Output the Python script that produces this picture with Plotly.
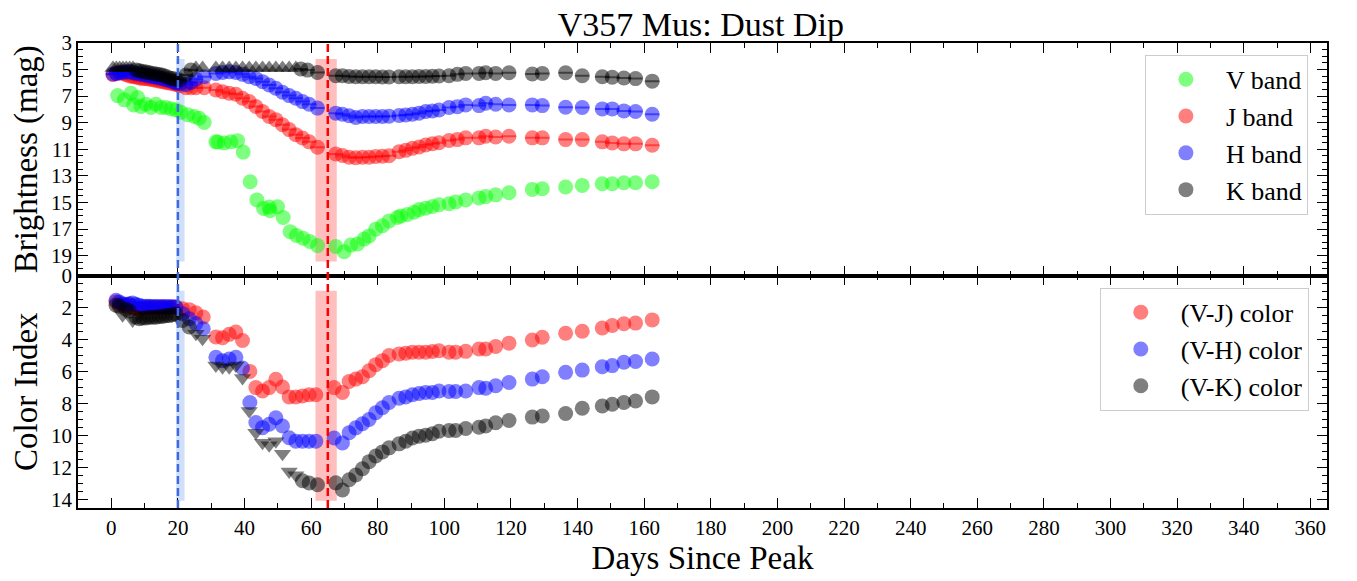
import plotly.graph_objects as go

FONT = "Liberation Serif, Times New Roman, serif"

# ---------------- top panel: magnitudes ----------------
v_days = [1.9, 3.9, 5.9, 6.7, 7.9, 8.9, 10.4, 11.9, 13.4, 14.9, 16.4, 17.9, 19.4, 20.9, 22.9, 24.9, 26.4, 27.9,
          31.4, 32.0, 33.9, 35.9, 37.9, 39.6, 41.7, 43.7, 45.7, 47.4, 47.7, 49.9, 51.6, 53.7, 55.6, 57.6, 59.6, 61.9,
          67.4, 69.9, 71.9, 73.9, 75.9, 77.4, 79.4, 81.4, 83.4, 85.9, 86.9, 88.9, 90.9, 92.4, 94.4, 96.4, 98.4,
          101.4, 103.4, 106.4, 110.4, 112.4, 115.4, 119.4, 126.4, 129.4, 136.4, 141.4, 147.4, 150.4, 153.9, 157.4, 162.4]
v_mag = [6.96, 7.28, 6.78, 7.66, 7.11, 7.78, 7.61, 7.85, 7.61, 7.85, 7.85, 7.95, 8.03, 8.21, 8.40, 8.53, 8.66, 8.98,
         10.44, 10.46, 10.52, 10.44, 10.35, 11.21, 13.44, 14.81, 15.45, 15.35, 15.63, 15.33, 16.13, 17.20, 17.49, 17.70, 17.94, 18.25,
         18.31, 18.71, 18.21, 18.13, 17.76, 17.52, 17.01, 16.76, 16.39, 16.14, 16.03, 15.90, 15.74, 15.54, 15.44, 15.31, 15.18,
         15.10, 14.96, 14.81, 14.66, 14.56, 14.43, 14.27, 14.02, 13.97, 13.84, 13.72, 13.59, 13.59, 13.52, 13.52, 13.44]

jh_days = [0.5, 1.5, 2.5, 3.5, 4.5, 5.5, 6.5, 7.5, 8.5, 9.5, 10.5, 11.5, 12.5, 13.5, 14.5, 15.5, 16.5, 17.5, 18.5, 19.5, 20.5,
           22.4, 23.9, 25.4, 27.9,
           31.4, 33.4, 35.4, 37.4, 39.4, 41.4, 43.4, 45.4, 47.4, 49.4, 51.4, 53.4, 55.4, 57.4, 59.4, 61.9,
           67.4, 69.4, 71.4, 73.4, 75.4, 77.4, 79.4, 81.4, 83.4, 86.4, 88.4, 90.4, 92.4, 94.4, 96.4, 98.4,
           101.4, 103.9, 106.4, 110.4, 112.4, 115.4, 119.4, 126.4, 129.4, 136.4, 141.4, 147.4, 150.4, 153.9, 157.4, 162.4]
j_mag = [5.38, 5.29, 5.24, 5.29, 5.38, 5.48, 5.53, 5.58, 5.63, 5.68, 5.68, 5.73, 5.77, 5.82, 5.87, 5.92, 5.97, 6.02, 6.07, 6.12, 6.21,
         6.36, 6.36, 6.36, 6.36,
         6.54, 6.66, 6.78, 6.86, 7.16, 7.41, 7.78, 8.16, 8.53, 8.77, 9.15, 9.52, 9.90, 10.15, 10.44, 10.84,
         11.35, 11.47, 11.60, 11.64, 11.60, 11.60, 11.54, 11.52, 11.49, 11.18, 11.08, 10.93, 10.83, 10.68, 10.58, 10.51,
         10.34, 10.27, 10.14, 10.14, 10.02, 10.07, 10.02, 10.14, 10.14, 10.27, 10.27, 10.44, 10.52, 10.59, 10.59, 10.70]
h_mag = [5.33, 5.29, 5.24, 5.19, 5.19, 5.14, 5.24, 5.29, 5.33, 5.38, 5.43, 5.48, 5.53, 5.58, 5.63, 5.68, 5.77, 5.82, 5.92, 6.02, 6.07,
         6.12, 5.97, 5.72, 5.54,
         5.29, 5.22, 5.17, 5.22, 5.36, 5.54, 5.67, 5.91, 6.16, 6.41, 6.71, 6.96, 7.16, 7.41, 7.61, 7.90,
         8.28, 8.36, 8.48, 8.61, 8.53, 8.53, 8.53, 8.53, 8.51, 8.46, 8.41, 8.36, 8.28, 8.16, 8.11, 8.04,
         7.86, 7.79, 7.66, 7.71, 7.53, 7.61, 7.66, 7.66, 7.71, 7.84, 7.86, 7.96, 7.96, 8.11, 8.16, 8.36]

k_days = [7.5, 8.5, 9.5, 10.5, 11.5, 12.5, 13.5, 14.5, 15.5, 16.5, 17.5, 18.5, 19.5, 20.5, 22.4, 23.9,
          56.9, 58.9, 61.9,
          67.4, 69.4, 71.4, 73.4, 75.4, 77.4, 79.4, 81.4, 83.4, 86.4, 88.4, 90.4, 92.4, 94.4, 96.4, 98.4,
          101.4, 103.9, 106.4, 110.4, 112.4, 115.4, 119.4, 126.4, 129.4, 136.4, 141.4, 147.4, 150.4, 153.9, 157.4, 162.4]
k_mag = [5.04, 5.09, 5.14, 5.19, 5.24, 5.29, 5.33, 5.38, 5.43, 5.53, 5.63, 5.68, 5.77, 5.79, 5.41, 5.04,
         4.96, 5.04, 5.22,
         5.47, 5.47, 5.52, 5.54, 5.54, 5.54, 5.54, 5.56, 5.56, 5.54, 5.54, 5.54, 5.52, 5.52, 5.50, 5.48,
         5.47, 5.36, 5.29, 5.29, 5.24, 5.29, 5.24, 5.33, 5.29, 5.24, 5.47, 5.54, 5.58, 5.64, 5.68, 5.87]
k_lim_days = [0.5, 1.5, 2.5, 3.5, 4.5, 5.5, 6.5, 25.4, 27.4, 31.4, 33.4, 35.4, 37.4, 39.4, 41.4, 43.4,
              45.4, 47.4, 49.4, 51.4, 53.4, 55.4]
k_lim_mag = [4.88, 4.88, 4.88, 4.88, 4.88, 4.88, 4.88, 4.88, 4.88, 4.88, 4.88, 4.88, 4.88, 4.88, 4.88, 4.88,
             4.88, 4.88, 4.88, 4.88, 4.88, 4.88]

# ---------------- bottom panel: colour indices ----------------
c_days = [1.4, 2.4, 3.4, 4.4, 5.4, 6.4, 7.4, 8.4, 9.4, 10.4, 11.4, 12.4, 13.4, 14.4, 15.4, 16.4, 17.4, 18.4, 19.4,
          21.4, 23.4, 25.4, 27.6,
          31.4, 33.4, 35.4, 37.4, 39.4, 41.6, 43.4, 45.4, 47.4, 49.4, 51.4, 53.4, 55.4, 57.4, 59.4, 61.4,
          66.9, 69.4, 71.4, 73.4, 75.4, 77.4, 79.4, 81.4, 83.4, 86.4, 88.4, 90.4, 92.4, 94.4, 96.4, 98.4,
          101.4, 103.4, 106.4, 110.4, 112.4, 115.4, 119.4, 126.4, 129.4, 136.4, 141.4, 147.4, 150.4, 153.9, 157.4, 162.4]
vj_color = [1.64, 1.81, 1.86, 1.91, 1.81, 2.01, 2.06, 2.11, 2.06, 2.01, 1.96, 2.01, 1.96, 2.01, 1.96, 2.01, 1.99, 1.96, 1.96,
            2.07, 2.13, 2.33, 2.59,
            3.84, 3.88, 3.67, 3.52, 4.05, 5.98, 6.99, 7.20, 6.99, 6.47, 6.95, 7.57, 7.57, 7.51, 7.44, 7.44,
            6.99, 7.29, 6.61, 6.46, 6.31, 5.94, 5.56, 5.31, 4.99, 4.89, 4.85, 4.78, 4.78, 4.78, 4.74, 4.69,
            4.78, 4.78, 4.73, 4.58, 4.58, 4.43, 4.22, 4.02, 3.85, 3.60, 3.48, 3.27, 3.12, 3.01, 2.97, 2.77]
vh_color = [1.54, 1.66, 1.76, 1.81, 1.76, 1.71, 1.81, 1.86, 1.91, 1.91, 1.91, 1.93, 1.93, 1.93, 1.93, 1.93, 1.94, 1.95, 1.96,
            2.38, 2.70, 3.00, 3.32,
            5.10, 5.31, 5.21, 5.10, 5.77, 7.92, 9.17, 9.49, 9.28, 8.87, 9.39, 10.12, 10.33, 10.33, 10.33, 10.33,
            10.13, 10.44, 9.81, 9.50, 9.25, 8.98, 8.56, 8.25, 7.92, 7.66, 7.57, 7.44, 7.36, 7.29, 7.29, 7.20,
            7.23, 7.23, 7.20, 6.99, 7.03, 6.88, 6.67, 6.46, 6.31, 6.04, 5.90, 5.69, 5.62, 5.41, 5.36, 5.21]

vk_days = [1.4, 2.4, 4.4, 5.4, 7.4, 8.4, 9.4, 10.4, 11.4, 12.4, 13.4, 14.4, 15.4, 16.4, 17.4, 18.4, 19.4, 21.4, 23.4,
           57.4, 59.4, 61.9,
           67.4, 69.4, 71.4, 73.4, 75.4, 77.4, 79.4, 81.4, 83.4, 86.4, 88.4, 90.4, 92.4, 94.4, 96.4, 98.4,
           101.4, 103.4, 106.4, 110.4, 112.4, 115.4, 119.4, 126.4, 129.4, 136.4, 141.4, 147.4, 150.4, 153.9, 157.4, 162.4]
vk_color = [1.85, 1.91, 2.11, 2.21, 2.60, 2.70, 2.65, 2.65, 2.60, 2.60, 2.60, 2.55, 2.55, 2.50, 2.50, 2.45, 2.40, 2.80, 3.21,
            12.80, 12.94, 13.05,
            12.93, 13.38, 12.74, 12.44, 12.05, 11.61, 11.26, 11.00, 10.75, 10.50, 10.34, 10.13, 10.02, 9.96, 9.87, 9.71,
            9.67, 9.67, 9.54, 9.46, 9.39, 9.18, 9.04, 8.83, 8.76, 8.61, 8.28, 8.14, 8.03, 7.92, 7.83, 7.57]
vk_lim_days = [3.4, 6.4, 25.4, 27.4, 31.4, 33.4, 35.4, 37.4, 39.4, 41.4, 43.4, 45.4, 47.4, 49.4, 51.4, 53.4, 55.4]
vk_lim_color = [2.48, 2.80, 3.63, 3.95, 5.62, 5.72, 5.72, 5.62, 6.40, 8.45, 9.80, 10.43, 10.58, 10.33, 11.12, 12.22, 12.46]

# events (days) and shaded windows
event1_day = 20.0
event1_span = [19.5, 22.0]
event2_day = 65.0
event2_span = [61.3, 67.7]
top_band_mag = [4.2, 19.45]
bot_band_color = [0.95, 14.05]

top_y_ticks = [3, 5, 7, 9, 11, 13, 15, 17, 19]
bot_y_ticks = [0, 2, 4, 6, 8, 10, 12, 14]

fig = go.Figure()

MS = 15
OP = 0.5


def rgba(hexc, a):
    h = hexc.lstrip("#")
    return "rgba(%d,%d,%d,%.2f)" % (int(h[0:2], 16), int(h[2:4], 16), int(h[4:6], 16), a)


def band_trace(x, y, color, name, legend, show=True, symbol="circle", group=None, err=True, xa="x", ya="y"):
    kw = {}
    if err:
        kw["error_y"] = dict(type="constant", value=0.03, width=7, thickness=1.2, color=rgba(color, 0.5))
    return go.Scatter(
        x=x, y=y, mode="markers", name=name, legend=legend, showlegend=show,
        legendgroup=group or name,
        marker=dict(color=color, size=MS, opacity=OP, symbol=symbol, line=dict(width=0)),
        xaxis=xa, yaxis=ya, **kw)


fig.add_trace(band_trace(v_days, v_mag, "#00ff00", "V band", "legend", err=False))
fig.add_trace(band_trace(jh_days, j_mag, "#ff0000", "J band", "legend"))
fig.add_trace(band_trace(jh_days, h_mag, "#0000ff", "H band", "legend"))
fig.add_trace(band_trace(k_days, k_mag, "#000000", "K band", "legend"))
fig.add_trace(band_trace(k_lim_days, k_lim_mag, "#000000", "K lim", "legend", show=False,
                         symbol="triangle-up", group="K band", err=False))

fig.add_trace(band_trace(c_days, vj_color, "#ff0000", "(V-J) color", "legend2", err=False, xa="x2", ya="y2"))
fig.add_trace(band_trace(c_days, vh_color, "#0000ff", "(V-H) color", "legend2", err=False, xa="x2", ya="y2"))
fig.add_trace(band_trace(vk_days, vk_color, "#000000", "(V-K) color", "legend2", err=False, xa="x2", ya="y2"))
fig.add_trace(band_trace(vk_lim_days, vk_lim_color, "#000000", "VK lim", "legend2", show=False,
                         symbol="triangle-down", group="(V-K) color", err=False, xa="x2", ya="y2"))

shapes = []
for yref, yr in [("y", top_band_mag), ("y2", bot_band_color)]:
    shapes.append(dict(type="rect", xref="x", yref=yref, x0=event1_span[0], x1=event1_span[1],
                       y0=yr[0], y1=yr[1], fillcolor="rgba(100,149,237,0.3)", line=dict(width=0), layer="below"))
    shapes.append(dict(type="rect", xref="x", yref=yref, x0=event2_span[0], x1=event2_span[1],
                       y0=yr[0], y1=yr[1], fillcolor="rgba(255,0,0,0.25)", line=dict(width=0), layer="below"))
shapes.append(dict(type="line", xref="x", yref="paper", x0=event1_day, x1=event1_day, y0=0, y1=1,
                   line=dict(color="#4169e1", width=2.5, dash="8px,4px")))
shapes.append(dict(type="line", xref="x", yref="paper", x0=event2_day, x1=event2_day, y0=0, y1=1,
                   line=dict(color="#ff0000", width=2.5, dash="8px,4px")))

axis_common = dict(showline=True, linecolor="black", linewidth=1.5, mirror="allticks", showgrid=False,
                   zeroline=False, ticks="inside", ticklen=10, tickwidth=1.3, tickcolor="black",
                   tickfont=dict(family=FONT, size=21, color="black"))
minor_y = dict(dtick=0.5, tick0=0, ticklen=5, ticks="inside", tickcolor="black", tickwidth=1.1)
minor_x = dict(dtick=10, ticklen=5, ticks="inside", tickcolor="black", tickwidth=1.1)

fig.update_layout(
    width=1349, height=573,
    margin=dict(l=70, r=30, t=35, b=73),
    paper_bgcolor="white", plot_bgcolor="white",
    font=dict(family=FONT, color="black"),
    title=dict(text="V357 Mus: Dust Dip", x=0.5136, xanchor="center", y=0.972, yanchor="middle",
               font=dict(family=FONT, size=34, color="black")),
    xaxis=dict(domain=[0, 1], anchor="y", range=[-10, 365], tick0=0, dtick=20, showticklabels=False,
               minor=minor_x, matches="x2", **axis_common),
    yaxis=dict(domain=[0.5, 1], anchor="x", range=[20.5, 3], tickvals=top_y_ticks, minor=minor_y,
               title=dict(text="Brightness (mag)", font=dict(family=FONT, size=33), standoff=18),
               automargin=False, **axis_common),
    xaxis2=dict(domain=[0, 1], anchor="y2", range=[-10, 365], tick0=0, dtick=20, minor=minor_x,
                title=dict(text="Days Since Peak", font=dict(family=FONT, size=33), standoff=4),
                automargin=False, **axis_common),
    yaxis2=dict(domain=[0, 0.5], anchor="x2", range=[14.5, 0], tickvals=bot_y_ticks, minor=minor_y,
                title=dict(text="Color Index", font=dict(family=FONT, size=33), standoff=18),
                automargin=False, **axis_common),
    legend=dict(x=0.8542, y=0.9745, xanchor="left", yanchor="top", bgcolor="rgba(255,255,255,0.8)",
                bordercolor="#cccccc", borderwidth=1, font=dict(family=FONT, size=26, color="black"),
                itemwidth=70, tracegroupgap=0),
    legend2=dict(x=0.8181, y=0.4737, xanchor="left", yanchor="top", bgcolor="rgba(255,255,255,0.8)",
                 bordercolor="#cccccc", borderwidth=1, font=dict(family=FONT, size=26, color="black"),
                 itemwidth=70, tracegroupgap=0),
    shapes=shapes,
)

fig.write_html("out.html")
